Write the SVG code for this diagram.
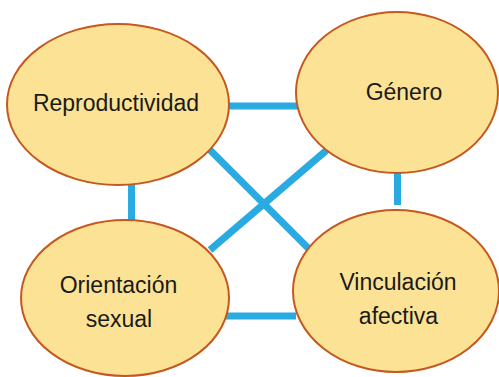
<svg xmlns="http://www.w3.org/2000/svg" width="499" height="377" viewBox="0 0 499 377">
<style>
.node ellipse{fill:#fce294;stroke:#c5581e;stroke-width:2}
.node text{font-family:"Liberation Sans",Arial,sans-serif;font-size:23px;fill:#1a1a1a;text-anchor:middle}
#connectors line{stroke:#29abe2;stroke-width:7;stroke-linecap:butt}
</style>
<rect width="499" height="377" fill="#ffffff"/>
<g id="connectors">
<line x1="226" y1="106" x2="300" y2="106"/>
<line x1="131.5" y1="182" x2="131.5" y2="223"/>
<line x1="397.5" y1="170" x2="397.5" y2="205"/>
<line x1="226" y1="316" x2="296" y2="316"/>
<line x1="208" y1="148" x2="310" y2="250"/>
<line x1="210" y1="250" x2="328" y2="149"/>
</g>
<g id="reproductividad" class="node">
<ellipse cx="118" cy="104.5" rx="111" ry="80.5"/>
<text x="116" y="111">Reproductividad</text>
</g>
<g id="genero" class="node">
<ellipse cx="397" cy="92.5" rx="101" ry="80.5"/>
<text x="404" y="100">Género</text>
</g>
<g id="orientacion" class="node">
<ellipse cx="125" cy="298" rx="104" ry="78"/>
<text x="118.5" y="293">Orientación</text>
<text x="119" y="327">sexual</text>
</g>
<g id="vinculacion" class="node">
<ellipse cx="396" cy="291" rx="103" ry="81"/>
<text x="398" y="290">Vinculación</text>
<text x="398.5" y="324">afectiva</text>
</g>
</svg>
